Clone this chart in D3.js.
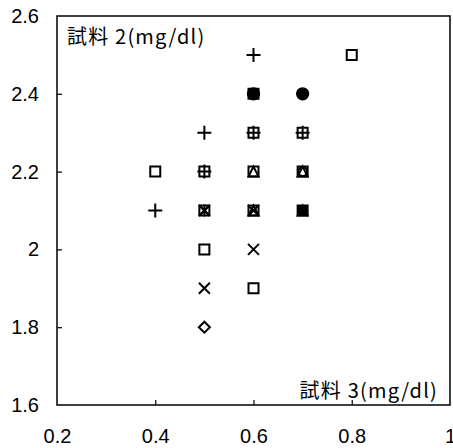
<!DOCTYPE html>
<html>
  <head>
    <meta charset="utf-8">
    <title>試料2 vs 試料3</title>
    <script src="https://cdn.jsdelivr.net/npm/d3@7"></script>
	<style>
		body { margin:0; background:white; }
		text { font-family:"Liberation Sans", Arial, sans-serif; fill:black; }
		.jp { font-family:"Noto Sans CJK JP", "Liberation Sans", sans-serif; letter-spacing:1.2px; }
	</style>
  </head>
  <body>
	<svg></svg>
    <script>
	// one array pair per marker series
	var diamondX = [0.5],
	    diamondY = [1.8];
	var squareX = [0.4, 0.5, 0.5, 0.5, 0.6, 0.6, 0.6, 0.6, 0.7, 0.7, 0.8],
	    squareY = [2.2, 2.2, 2.1, 2.0, 2.3, 2.2, 2.1, 1.9, 2.3, 2.2, 2.5];
	var triangleX = [0.6, 0.6, 0.7, 0.7],
	    triangleY = [2.2, 2.1, 2.2, 2.1];
	var crossX = [0.5, 0.6, 0.5, 0.6],
	    crossY = [1.9, 2.0, 2.1, 2.1];
	var starX = [0.5],
	    starY = [2.1];
	var circleX = [0.7],
	    circleY = [2.2];
	var plusX = [0.4, 0.5, 0.5, 0.6, 0.6, 0.7],
	    plusY = [2.1, 2.3, 2.2, 2.5, 2.3, 2.3];
	var dotX = [0.6, 0.7],
	    dotY = [2.4, 2.4];
	var blockX = [0.6, 0.7],
	    blockY = [2.4, 2.1];

	var xTicks = [0.2, 0.4, 0.6, 0.8, 1],
	    yTicks = [1.6, 1.8, 2, 2.2, 2.4, 2.6];
	var yTitle = "試料 2(mg/dl)",
	    xTitle = "試料 3(mg/dl)";

	var width = 453,
	    height = 448;
	var plotL = 57, plotR = 450, plotT = 16, plotB = 405;

	var svg = d3.select("svg")
		.attr("width", width)
		.attr("height", height);

	var x = d3.scaleLinear().domain([0.2, 1]).range([plotL, plotR]);
	var y = d3.scaleLinear().domain([1.6, 2.6]).range([plotB, plotT]);

	svg.append("rect")
		.attr("x", plotL).attr("y", plotT)
		.attr("width", plotR - plotL).attr("height", plotB - plotT)
		.attr("fill", "none").attr("stroke", "black").attr("stroke-width", 1.5);

	var xAxis = svg.append("g")
		.attr("transform", "translate(0," + plotB + ")")
		.call(d3.axisBottom(x).tickValues(xTicks).tickSize(-5).tickPadding(24)
			.tickFormat(function(d){ return String(d); }));
	var yAxis = svg.append("g")
		.attr("transform", "translate(" + plotL + ",0)")
		.call(d3.axisLeft(y).tickValues(yTicks).tickSize(-5).tickPadding(18)
			.tickFormat(function(d){ return String(d); }));
	[xAxis, yAxis].forEach(function(a){
		a.select(".domain").remove();
		a.selectAll("line").attr("stroke", "black").attr("stroke-width", 1.2);
		a.selectAll("text").attr("font-size", 20).attr("fill", "black")
			.attr("font-family", "Liberation Sans, Arial, sans-serif");
	});
	// ends of the axes carry no tick mark
	xAxis.selectAll(".tick").filter(function(d){ return d == 0.2 || d == 1; }).select("line").remove();
	yAxis.selectAll(".tick").filter(function(d){ return d == 1.6 || d == 2.6; }).select("line").remove();

	svg.append("text").attr("class", "jp")
		.attr("x", plotL + 10).attr("y", 44)
		.attr("font-size", 20)
		.text(yTitle);
	svg.append("text").attr("class", "jp")
		.attr("x", plotR - 12).attr("y", 398)
		.attr("text-anchor", "end")
		.attr("font-size", 20)
		.text(xTitle);

	function pts(xs, ys) {
		return xs.map(function(v, i){ return [v, ys[i]]; });
	}

	function addSymbol(data, type, size, filled) {
		svg.append("g").selectAll("path")
			.data(data).enter().append("path")
			.attr("transform", function(d){ return "translate(" + x(d[0]) + "," + y(d[1]) + ")"; })
			.attr("d", d3.symbol().type(type).size(size))
			.attr("fill", filled ? "black" : "none")
			.attr("stroke", "black")
			.attr("stroke-width", 2);
	}

	function addPath(data, pathStr, filled) {
		svg.append("g").selectAll("path")
			.data(data).enter().append("path")
			.attr("transform", function(d){ return "translate(" + x(d[0]) + "," + y(d[1]) + ")"; })
			.attr("d", pathStr)
			.attr("fill", filled ? "black" : "none")
			.attr("stroke", "black")
			.attr("stroke-width", 2);
	}

	addPath(pts(diamondX, diamondY), "M0,-5.5L5.5,0L0,5.5L-5.5,0Z", false);
	addSymbol(pts(squareX, squareY), d3.symbolSquare, 100, false);
	addPath(pts(triangleX, triangleY), "M0,-5L5,5L-5,5Z", false);
	addPath(pts(crossX, crossY), "M-5.5,-5.5L5.5,5.5M-5.5,5.5L5.5,-5.5", false);
	addPath(pts(starX, starY), "M-5,-5L5,5M-5,5L5,-5M0,-6L0,6", false);
	addSymbol(pts(circleX, circleY), d3.symbolCircle, 60, false);
	addPath(pts(plusX, plusY), "M-7,0L7,0M0,-7L0,7", false);
	addSymbol(pts(dotX, dotY), d3.symbolCircle, 100, true);
	addSymbol(pts(blockX, blockY), d3.symbolSquare, 100, true);
    </script>
  </body>
</html>
